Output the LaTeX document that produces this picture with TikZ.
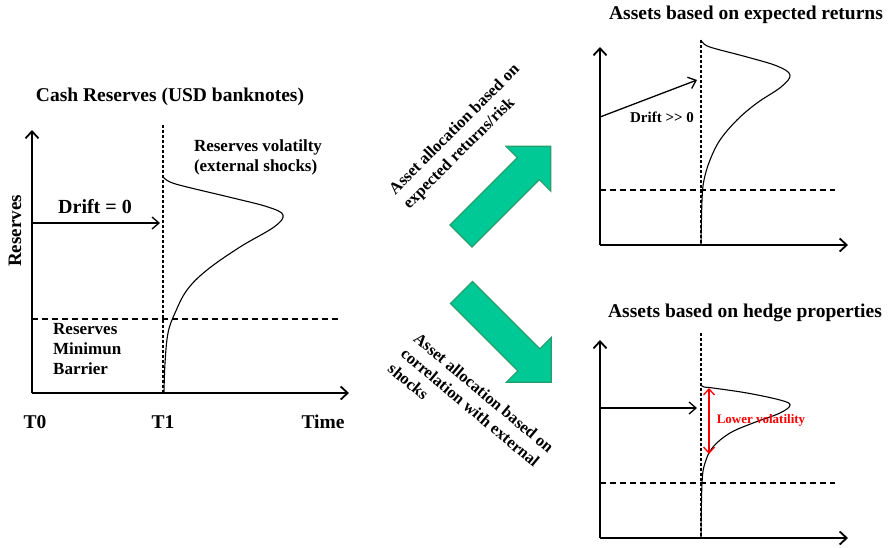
\documentclass[tikz,border=0pt]{standalone}
\usepackage{fontspec}
\setmainfont{Liberation Serif}
\usetikzlibrary{arrows.meta}

\definecolor{arrowgreen}{RGB}{0,201,149}
\definecolor{arrowedge}{RGB}{38,158,108}

\begin{document}
\begin{tikzpicture}[x=1pt,y=-1pt,
  axis/.style={line width=1.8pt,-{Straight Barb[length=7pt,width=13pt,line width=1.8pt]}},
  driftline/.style={line width=1.3pt,-{Straight Barb[length=7pt,width=12pt,line width=1.3pt]}},
  timeline/.style={line width=1.3pt,dash pattern=on 3pt off 2pt},
  barrierline/.style={line width=1.3pt,dash pattern=on 6pt off 4pt},
  density/.style={line width=1.1pt,smooth,tension=0.6},
  bigarrow/.style={fill=arrowgreen,draw=arrowedge,line width=1.2pt,line join=miter},
  title/.style={font=\bfseries\fontsize{19.5}{23}\selectfont},
  lbl/.style={font=\bfseries\fontsize{17}{20}\selectfont,inner sep=0pt},
  slanted/.style={font=\bfseries\fontsize{16.5}{20}\selectfont,align=left,inner sep=0pt}]
\useasboundingbox (0,0) rectangle (888,547);

% cash reserves
\node[title] (cashtitle) at (170,97) {Cash Reserves (USD banknotes)};
\draw[axis] (32,393) -- (32,130);
\draw[axis] (32,393) -- (349,393);
\draw[timeline] (163,125) -- (163,393);
\draw[barrierline] (32,319) -- (340,319);
\draw[density] plot coordinates {(163,177) (170,182) (187,187) (233,198) (268,207) (283,215) (274,227) (240,247) (207,270) (187,290) (175,313) (168,333) (165,363) (164,392)};
\coordinate (drift0) at (32,223);
\coordinate (t1drift) at (160,223);
\draw[driftline] (drift0) -- (t1drift);
\node[font=\bfseries\fontsize{20}{24}\selectfont] (driftzero) at (95,207) {Drift = 0};
\node[lbl,align=left] (volatility) at (258,157) {Reserves volatilty\\(external shocks)};
\node[lbl,align=left,anchor=west] (barrier) at (53,349) {Reserves\\Minimun\\Barrier};
\node[font=\bfseries\fontsize{19}{23}\selectfont,rotate=90] (reserves) at (15,231) {Reserves};
\node[title] (tzero) at (35,422) {T0};
\node[title] (tone) at (163,422) {T1};
\node[title] (time) at (323,422) {Time};

% allocation arrows
\begin{scope}[shift={(461,236)},rotate=45]
\draw[bigarrow] (0,-15.6) -- (95.2,-15.6) -- (95.2,-31.8) -- (127,0) -- (95.2,31.8) -- (95.2,15.6) -- (0,15.6) -- cycle;
\end{scope}
\begin{scope}[shift={(461.5,292.5)},rotate=-45]
\draw[bigarrow] (0,-15.6) -- (95.2,-15.6) -- (95.2,-31.8) -- (127,0) -- (95.2,31.8) -- (95.2,15.6) -- (0,15.6) -- cycle;
\end{scope}
\node[slanted,rotate=45] (returnsrisk) at (462,137) {Asset allocation based on\\expected returns/risk};
\node[slanted,rotate=-40] (correlation) at (471,408) {Asset allocation based on\\correlation with external\\shocks};

% expected returns
\node[title] (returnstitle) at (746,15) {Assets based on expected returns};
\draw[axis] (600,245) -- (600,47);
\draw[axis] (600,245) -- (848,245);
\draw[timeline] (701,40) -- (701,245);
\draw[barrierline] (600,190) -- (835,190);
\draw[density] plot coordinates {(701,40) (704,44) (713,48) (747,57) (777,66) (790,75) (781,87) (757,103) (737,120) (720,140) (710,160) (704,180) (702,200) (701,244)};
\coordinate (driftstart) at (600,117);
\coordinate (driftend) at (697,80);
\draw[driftline] (driftstart) -- (driftend);
\node[font=\bfseries\fontsize{15}{18}\selectfont] (driftbig) at (662,117) {Drift >{}> 0};

% hedge properties
\node[title] (hedgetitle) at (745,313) {Assets based on hedge properties};
\draw[axis] (600,538) -- (600,340);
\draw[axis] (600,538) -- (848,538);
\draw[timeline] (701,333) -- (701,538);
\draw[barrierline] (600,483) -- (835,483);
\draw[density] plot coordinates {(701,385) (704,387) (713,388) (747,393) (780,400) (790,405) (780,413) (753,423) (730,433) (713,447) (705,463) (702,483) (701,537)};
\coordinate (hedgestart) at (600,408);
\coordinate (hedgeend) at (697,408);
\draw[driftline] (hedgestart) -- (hedgeend);
\coordinate (voltop) at (709,388);
\coordinate (volbottom) at (709,454);
\draw[red,line width=1.3pt,{Straight Barb[length=6pt,width=11pt]}-{Straight Barb[length=6pt,width=11pt]}] (voltop) -- (volbottom);
\node[red,font=\bfseries\fontsize{13}{16}\selectfont] (lowervol) at (761,420) {Lower volatility};
\end{tikzpicture}
\end{document}
